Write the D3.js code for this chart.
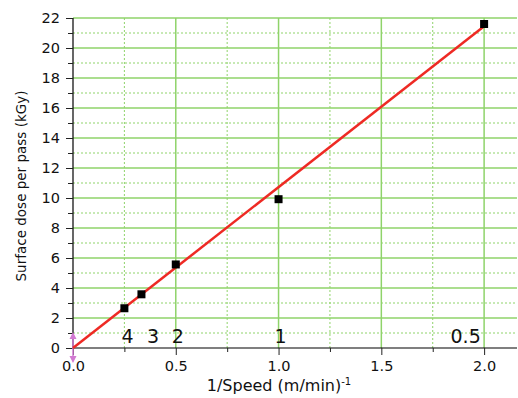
<!DOCTYPE html>
<html>
<head>
<meta charset="utf-8">
<script src="https://cdn.jsdelivr.net/npm/d3@7"></script>
<style>
  body { margin: 0; background: #fff; }
  text { font-family: "DejaVu Sans", Verdana, sans-serif; }
</style>
</head>
<body>
<svg width="518" height="398"></svg>
<script>
// measured points (1/speed, dose)
var invSpeed = [0.25, 0.333, 0.5, 1.0, 2.0];
var dose = [2.65, 3.58, 5.57, 9.92, 21.6];
// speed labels written along the bottom
var speedLabels = ["4", "3", "2", "1", "0.5"];
var speedLabelX = [0.265, 0.39, 0.51, 1.01, 1.91];
// fitted line
var fitX = [0, 2.0];
var fitY = [0, 21.45];

var xTicks = [0, 0.5, 1.0, 1.5, 2.0];
var yTicks = [0, 2, 4, 6, 8, 10, 12, 14, 16, 18, 20, 22];

var svg = d3.select("svg");
var margin = { left: 73, top: 18, right: 1, bottom: 50 };
var width = 518 - margin.left - margin.right;
var height = 398 - margin.top - margin.bottom;

var x = d3.scaleLinear().domain([0, 2.16]).range([0, width]);
var y = d3.scaleLinear().domain([0, 22]).range([height, 0]);

var g = svg.append("g").attr("transform", "translate(" + margin.left + "," + margin.top + ")");

var grid = "#8fd36a";

// minor grid (dotted)
g.append("g")
  .selectAll("line")
  .data(d3.range(1, 22, 2))
  .enter()
  .append("line")
  .attr("x1", 0).attr("x2", width)
  .attr("y1", (d) => y(d)).attr("y2", (d) => y(d))
  .style("stroke", grid).style("stroke-width", 1)
  .style("stroke-dasharray", "2,2");
g.append("g")
  .selectAll("line")
  .data([0.25, 0.75, 1.25, 1.75])
  .enter()
  .append("line")
  .attr("x1", (d) => x(d)).attr("x2", (d) => x(d))
  .attr("y1", 0).attr("y2", height)
  .style("stroke", grid).style("stroke-width", 1)
  .style("stroke-dasharray", "2,2");

// major grid (solid)
g.append("g")
  .selectAll("line")
  .data(yTicks.slice(1))
  .enter()
  .append("line")
  .attr("x1", 0).attr("x2", width)
  .attr("y1", (d) => y(d)).attr("y2", (d) => y(d))
  .style("stroke", grid).style("stroke-width", 1.5);
g.append("g")
  .selectAll("line")
  .data(xTicks.slice(1))
  .enter()
  .append("line")
  .attr("x1", (d) => x(d)).attr("x2", (d) => x(d))
  .attr("y1", 0).attr("y2", height)
  .style("stroke", grid).style("stroke-width", 1.5);

// axes
var yAxis = d3.axisLeft(y).tickValues(d3.range(0, 23, 1))
  .tickFormat((d) => d % 2 == 0 ? d : "")
  .tickSize(6).tickPadding(7);
var ya = g.append("g").call(yAxis);
ya.selectAll(".tick line").attr("x2", (d) => d % 2 == 0 ? -7 : -5);

var xAxis = d3.axisBottom(x).tickValues(d3.range(0, 2.01, 0.25))
  .tickFormat((d) => (d * 2) % 1 == 0 ? d.toFixed(1) : "")
  .tickSize(6).tickPadding(7);
var xa = g.append("g").attr("transform", "translate(0," + height + ")").call(xAxis);
xa.selectAll(".tick line").attr("y2", (d) => (d * 2) % 1 == 0 ? 7 : 4);

[ya, xa].forEach(function (a) {
  a.select(".domain").style("stroke", "#000").style("stroke-width", 1.2);
  a.selectAll(".tick line").style("stroke", "#222");
  a.selectAll("text").style("font-size", "14.5px").style("fill", "#111")
    .style("font-family", "'DejaVu Sans', Verdana, sans-serif");
});
ya.select(".domain").attr("d", "M0," + height + "V0");
xa.select(".domain").attr("d", "M0,0H" + width);

// pink double arrow at origin
var pink = "#d27ad2";
g.append("line")
  .attr("x1", x(0)).attr("x2", x(0))
  .attr("y1", y(0) - 13).attr("y2", y(0) + 12)
  .style("stroke", pink).style("stroke-width", 1.5);
g.append("path")
  .attr("d", "M" + (x(0) - 3.5) + "," + (y(0) - 9) + "L" + x(0) + "," + (y(0) - 16) + "L" + (x(0) + 3.5) + "," + (y(0) - 9) + "Z" +
    "M" + (x(0) - 3.5) + "," + (y(0) + 8) + "L" + x(0) + "," + (y(0) + 15) + "L" + (x(0) + 3.5) + "," + (y(0) + 8) + "Z")
  .style("fill", pink);

// speed labels
g.append("g")
  .selectAll("text")
  .data(speedLabels)
  .enter()
  .append("text")
  .attr("x", (d, i) => x(speedLabelX[i]))
  .attr("y", y(0) - 5)
  .attr("text-anchor", "middle")
  .style("font-size", "19px")
  .style("fill", "#111")
  .text((d) => d);

// fit line
var line = d3.line().x((d) => x(d[0])).y((d) => y(d[1]));
g.append("path")
  .datum(d3.zip(fitX, fitY))
  .attr("d", line)
  .style("fill", "none")
  .style("stroke", "#ee2a24")
  .style("stroke-width", 2.5);

// data markers
g.append("g")
  .selectAll("rect")
  .data(d3.zip(invSpeed, dose))
  .enter()
  .append("rect")
  .attr("x", (d) => x(d[0]) - 4)
  .attr("y", (d) => y(d[1]) - 4)
  .attr("width", 8)
  .attr("height", 8)
  .style("fill", "#000");

// axis titles
svg.append("text")
  .attr("transform", "translate(26," + 186 + ") rotate(-90)")
  .attr("text-anchor", "middle")
  .style("font-size", "13.5px")
  .style("fill", "#111")
  .text("Surface dose per pass (kGy)");

var xt = svg.append("text")
  .attr("x", 279)
  .attr("y", 391)
  .attr("text-anchor", "middle")
  .style("font-size", "16px")
  .style("fill", "#111");
xt.append("tspan").text("1/Speed (m/min)");
xt.append("tspan").attr("dy", -6).style("font-size", "10px").text("-1");
</script>
</body>
</html>
